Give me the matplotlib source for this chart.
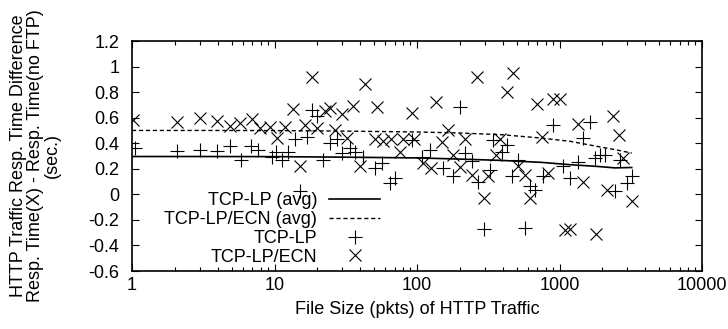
import matplotlib
matplotlib.use("Agg")
import matplotlib.pyplot as plt
from matplotlib.ticker import FuncFormatter, LogLocator, FixedLocator

plt.rcParams['font.family'] = ['Liberation Sans', 'DejaVu Sans']

# scatter data
lp_x = [1.05, 2.06, 3.0, 3.93, 4.9, 5.8, 6.8, 7.7, 9.6, 10.2, 11.2, 12.5, 13.9,
        15.1, 16.8, 18.2, 19.8, 22.0, 24.5, 27.3, 29.6, 33.9, 36.7, 42.0, 50.7,
        56.5, 64.6, 70.1, 91.8, 108, 123, 153, 180, 200, 217, 242, 269, 293, 326,
        344, 393, 430, 462, 514, 573, 621, 673, 770, 905, 1064, 1185, 1342, 1469,
        1644, 1780, 1927, 2090, 2453, 2655, 2954, 3212]
lp_y = [0.36, 0.34, 0.35, 0.34, 0.38, 0.265, 0.38, 0.35, 0.29, 0.33, 0.27, 0.335, 0.43,
        0.03, 0.45, 0.66, 0.61, 0.27, 0.40, 0.43, 0.32, 0.36, 0.335, 0.296, 0.206,
        0.245, 0.09, 0.128, 0.427, 0.296, 0.35, 0.206, 0.14, 0.686, 0.323, 0.257, 0.1, -0.275, 0.19,
        0.427, 0.335, 0.39, 0.14, 0.27, -0.26, 0.062, 0.037, 0.14, 0.544, 0.218, 0.128, 0.25, 0.44,
        0.57, 0.284, 0.31, 0.31, 0.023, 0.27, 0.09, 0.14]

ecn_x = [1.02, 2.06, 3.0, 3.93, 4.9, 5.7, 6.9, 7.9, 9.3, 10.4, 11.8, 13.5, 15.1,
         16.4, 18.2, 19.8, 22.6, 24.5, 26.6, 29.6, 32.1, 35.7, 39.8, 43.2, 50.7,
         52.1, 58, 66, 76, 80, 91.8, 95, 111, 126, 137, 149, 166, 180, 200, 217,
         242, 262, 293, 316, 358, 383, 430, 474, 514, 573, 621, 692, 750, 832, 905,
         1008, 1093, 1185, 1355, 1469, 1795, 2143, 2386, 2616, 2804, 3212]
ecn_y = [0.58, 0.57, 0.60, 0.575, 0.536, 0.56, 0.59, 0.52, 0.53, 0.44, 0.53, 0.67, 0.22,
         0.54, 0.915, 0.52, 0.65, 0.675, 0.505, 0.63, 0.44, 0.69, 0.22, 0.86, 0.43,
         0.68, 0.42, 0.43, 0.335, 0.43, 0.64, 0.43, 0.245, 0.206, 0.72, 0.41, 0.505, 0.31, 0.214, 0.43,
         0.154, 0.92, -0.03, 0.14, 0.31, 0.43, 0.80, 0.947, 0.218, 0.154, -0.03, 0.705, 0.45, 0.167, 0.745,
         0.745, -0.28, -0.275, 0.55, 0.094, -0.31, 0.037, 0.61, 0.466, 0.284, -0.05]

# average curves
avg_x = [1, 3, 10, 30, 100, 200, 400, 750, 1185, 1862, 2450, 3212]
lp_avg = [0.296, 0.296, 0.295, 0.291, 0.285, 0.276, 0.265, 0.25, 0.232, 0.218, 0.207, 0.21]
ecn_avg = [0.50, 0.50, 0.499, 0.495, 0.488, 0.48, 0.466, 0.44, 0.415, 0.374, 0.35, 0.323]

y_ticks = [-0.6, -0.4, -0.2, 0, 0.2, 0.4, 0.6, 0.8, 1.0, 1.2]
x_ticks = [1, 10, 100, 1000, 10000]

fs = 13

fig = plt.figure(figsize=(7.28, 3.29), dpi=100)
ax = fig.add_axes([132 / 728, 1 - 271 / 329, 570 / 728, 230 / 329])

ax.plot(avg_x, lp_avg, color="black", lw=1.2, label="TCP-LP (avg)")
ax.plot(avg_x, ecn_avg, color="black", lw=1.0, dashes=(3, 2), label="TCP-LP/ECN (avg)")
ax.plot(lp_x, lp_y, ls="none", marker="+", ms=9.5, mew=0.8, color="black", label="TCP-LP")
ax.plot(ecn_x, ecn_y, ls="none", marker="x", ms=8.5, mew=0.8, color="black", label="TCP-LP/ECN")

ax.set_xscale("log")
ax.set_xlim(1, 10000)
ax.set_ylim(-0.6, 1.2)
ax.xaxis.set_major_locator(FixedLocator(x_ticks))
ax.xaxis.set_minor_locator(LogLocator(base=10, subs=range(2, 10)))
ax.xaxis.set_major_formatter(FuncFormatter(lambda v, p: "%g" % v))
ax.yaxis.set_major_locator(FixedLocator(y_ticks))
ax.yaxis.set_major_formatter(FuncFormatter(lambda v, p: "%g" % round(v, 1)))

ax.tick_params(which="both", direction="in", top=True, right=True, labelsize=fs, width=0.8)
ax.tick_params(which="major", length=5)
ax.tick_params(which="minor", length=3)
ax.tick_params(axis="x", which="major", pad=4)
ax.tick_params(axis="y", which="major", pad=9)
for s in ax.spines.values():
    s.set_linewidth(1.2)

ax.set_xlabel("File Size (pkts) of HTTP Traffic", fontsize=fs, labelpad=5)
ax.set_ylabel("HTTP Traffic Resp. Time Difference\nResp. Time(X) - Resp. Time(no FTP)\n(sec.)",
              fontsize=fs, linespacing=1.0)
ax.yaxis.set_label_coords(-0.1246, 0.5)

ax.legend(loc="lower right", bbox_to_anchor=(0.435, 0.023), frameon=False, markerfirst=False,
          fontsize=fs, handlelength=2.8, handletextpad=0.67, labelspacing=0.1, borderpad=0,
          borderaxespad=0)

fig.savefig("out.png", dpi=100)
